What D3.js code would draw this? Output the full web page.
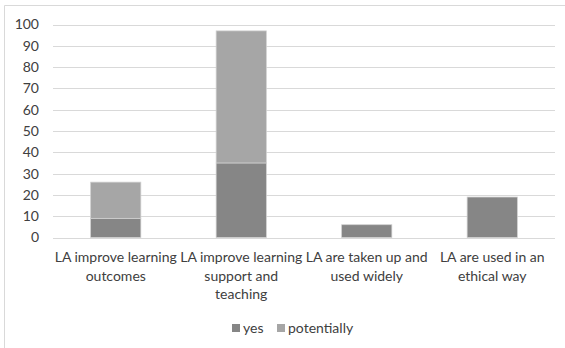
<!DOCTYPE html>
<html>
<head>
<meta charset="utf-8">
<script src="https://cdn.jsdelivr.net/npm/d3@7"></script>
<style>
  html, body { margin: 0; padding: 0; background: #fff; }
  text { font-family: Lato, "Open Sans", sans-serif; fill: #404040; }
</style>
</head>
<body>
<div id="canvas"></div>
<script>
"use strict"

/* Data */
let categories = [
    ["LA improve learning", "outcomes"],
    ["LA improve learning", "support and", "teaching"],
    ["LA are taken up and", "used widely"],
    ["LA are used in an", "ethical way"]
];
let yesValues = [9, 35, 6, 19];
let potentiallyValues = [17, 62, 0, 0];
let seriesNames = ["yes", "potentially"];
let yTicks = [0, 10, 20, 30, 40, 50, 60, 70, 80, 90, 100];

let colors = { yes: "#868686", potentially: "#a6a6a6" };

/* Drawing dimensions */
let svgWidth = 565;
let svgHeight = 348;
let plotLeft = 53, plotRight = 555, plotTop = 24.5, plotBottom = 237.5;

let svg = d3.select("#canvas")
    .append("svg")
    .attr("width", svgWidth)
    .attr("height", svgHeight);

// frame: only top and left edges visible
svg.append("path")
    .attr("d", "M4.5," + svgHeight + "V5.5H" + svgWidth)
    .attr("fill", "none")
    .attr("stroke", "#d9d9d9");

let xScale = d3.scaleBand()
    .domain(d3.range(categories.length))
    .range([plotLeft, plotRight])
    .paddingInner(0.6)
    .paddingOuter(0.3);

let yScale = d3.scaleLinear()
    .domain([0, 100])
    .range([plotBottom, plotTop]);

// gridlines
svg.selectAll("line.grid")
    .data(yTicks)
    .join("line")
    .attr("class", "grid")
    .attr("x1", plotLeft)
    .attr("x2", plotRight)
    .attr("y1", d => Math.round(yScale(d)) + 0.5)
    .attr("y2", d => Math.round(yScale(d)) + 0.5)
    .attr("stroke", "#d9d9d9")
    .attr("stroke-width", 1);

// y labels
svg.selectAll("text.ytick")
    .data(yTicks)
    .join("text")
    .attr("class", "ytick")
    .attr("x", 39)
    .attr("y", d => yScale(d))
    .attr("dy", "0.35em")
    .attr("text-anchor", "end")
    .style("font-size", "14px")
    .text(d => d);

/* Stacked bars */
let table = categories.map((c, i) => ({ i: i, yes: yesValues[i], potentially: potentiallyValues[i] }));
let stacked = d3.stack().keys(seriesNames)(table);

svg.selectAll("g.series")
    .data(stacked)
    .join("g")
    .attr("class", "series")
    .attr("fill", d => colors[d.key])
    .selectAll("rect")
    .data(d => d.filter(p => p[1] > p[0]))
    .join("rect")
    .attr("x", d => xScale(d.data.i))
    .attr("width", xScale.bandwidth())
    .attr("y", d => yScale(d[1]))
    .attr("height", d => yScale(d[0]) - yScale(d[1]))
    .attr("stroke", "#d0d0d0")
    .attr("stroke-width", 0.75);

/* Category labels */
svg.selectAll("text.cat")
    .data(categories)
    .join("text")
    .attr("class", "cat")
    .attr("text-anchor", "middle")
    .style("font-size", "14px")
    .attr("x", (d, i) => xScale(i) + xScale.bandwidth() / 2)
    .attr("y", 262)
    .selectAll("tspan")
    .data(d => d)
    .join("tspan")
    .attr("x", function () { return this.parentNode.getAttribute("x"); })
    .attr("dy", (d, i) => i === 0 ? 0 : 18.5)
    .text(d => d);

/* Legend */
let legendX = [232, 277];
let legend = svg.selectAll("g.legend")
    .data(seriesNames)
    .join("g")
    .attr("class", "legend")
    .attr("transform", (d, i) => "translate(" + legendX[i] + ",328)");

legend.append("rect")
    .attr("x", 0)
    .attr("y", -4)
    .attr("width", 8)
    .attr("height", 8)
    .attr("fill", d => colors[d]);

legend.append("text")
    .attr("x", 11)
    .attr("y", 0)
    .attr("dy", "0.35em")
    .style("font-size", "14px")
    .text(d => d);
</script>
</body>
</html>
